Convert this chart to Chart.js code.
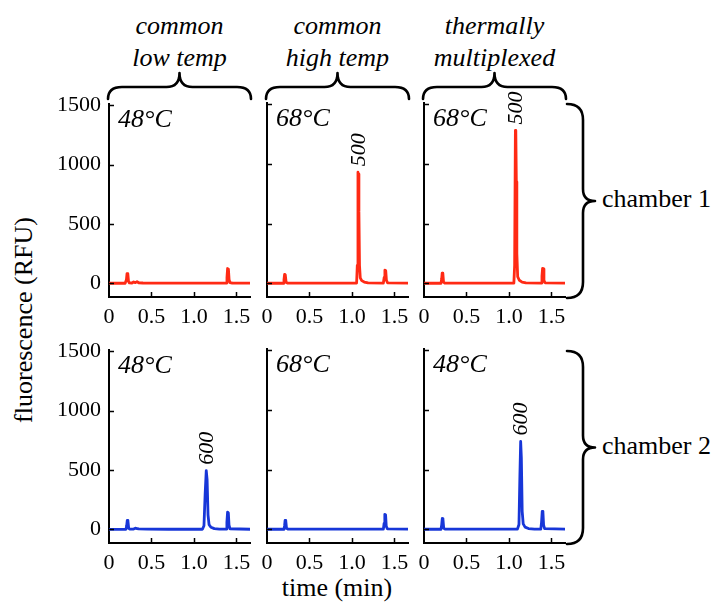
<!DOCTYPE html>
<html><head><meta charset="utf-8">
<script src="https://cdn.jsdelivr.net/npm/chart.js@4.4.0/dist/chart.umd.min.js"></script>
<style>
html,body{margin:0;padding:0;background:#fff;}
#wrap{position:relative;width:715px;height:603px;overflow:hidden;font-family:'Liberation Serif','Times New Roman',serif;color:#000;background:#fff;}
canvas{position:absolute;}
.t{position:absolute;font-size:26px;line-height:32px;white-space:nowrap;}
.it{font-style:italic;text-align:center;width:200px;}
svg{position:absolute;left:0;top:0;}
</style></head><body><div id="wrap">
<svg width="715" height="603" viewBox="0 0 715 603" id="braces"></svg>
</div>
<script>
// ---- data (time in min, fluorescence in RFU) ----
const xTicks = [0, 0.5, 1.0, 1.5];
const xTickLabels = ['0', '0.5', '1.0', '1.5'];
const yTicks = [0, 500, 1000, 1500];
const yTickLabels = ['0', '500', '1000', '1500'];
const columnTitles = [['common', 'low temp'], ['common', 'high temp'], ['thermally', 'multiplexed']];
const rowTitles = ['chamber 1', 'chamber 2'];
const tempLabels = ['48°C', '68°C', '68°C', '48°C', '68°C', '48°C'];
const peakLabels = ['', '500', '500', '600', '', '600'];

const chamber1Low = [[0,1],[0.19,1],[0.205,30],[0.212,82],[0.222,78],[0.23,15],[0.24,4],[0.27,3],[0.29,12],[0.31,6],[0.33,14],[0.35,5],[0.4,3],[0.6,2],[0.9,2],[1.2,2],[1.38,2],[1.389,50],[1.396,125],[1.406,120],[1.414,30],[1.425,6],[1.45,3],[1.66,2]];
const chamber1High = [[0,0],[0.19,0],[0.2,30],[0.207,75],[0.215,72],[0.225,8],[0.24,2],[0.5,1],[1.0,1],[1.055,2],[1.063,150],[1.071,930],[1.076,915],[1.082,600],[1.089,150],[1.098,45],[1.115,22],[1.145,10],[1.19,3],[1.37,2],[1.38,50],[1.388,110],[1.398,105],[1.406,25],[1.42,4],[1.66,1]];
const chamber1Multi = [[0,0],[0.2,0],[0.208,35],[0.214,84],[0.222,80],[0.23,10],[0.245,2],[0.5,1],[1.058,1],[1.067,150],[1.076,1280],[1.081,1265],[1.087,850],[1.093,250],[1.103,55],[1.122,25],[1.155,10],[1.2,3],[1.38,2],[1.389,60],[1.396,125],[1.404,120],[1.412,25],[1.425,4],[1.66,1]];
const chamber2Low = [[0,0],[0.2,0],[0.208,30],[0.215,75],[0.223,70],[0.232,8],[0.245,2],[0.29,3],[0.31,10],[0.33,7],[0.35,4],[0.45,2],[0.7,1],[1.1,1],[1.118,30],[1.132,300],[1.145,495],[1.155,420],[1.166,120],[1.178,40],[1.2,18],[1.24,6],[1.3,2],[1.38,2],[1.388,60],[1.396,145],[1.405,140],[1.413,35],[1.425,5],[1.66,1]];
const chamber2High = [[0,0],[0.2,0],[0.207,30],[0.213,75],[0.221,70],[0.23,8],[0.245,2],[0.6,1],[1.0,1],[1.37,1],[1.379,50],[1.387,125],[1.396,120],[1.404,25],[1.418,4],[1.66,1]];
const chamber2Multi = [[0,0],[0.2,0],[0.208,35],[0.215,90],[0.223,85],[0.232,10],[0.245,2],[0.6,1],[1.1,1],[1.118,40],[1.129,450],[1.138,735],[1.146,600],[1.156,150],[1.168,45],[1.19,18],[1.23,6],[1.3,2],[1.375,2],[1.384,60],[1.392,150],[1.4,145],[1.408,35],[1.42,5],[1.66,1]];

const traces = [chamber1Low, chamber1High, chamber1Multi, chamber2Low, chamber2High, chamber2Multi];

// ---- style / layout ----
const FONT = "'Liberation Serif','Times New Roman',serif";
const RED = '#ff2a14';
const BLUE = '#1736d8';
const X_MAX = 1.66, Y_MIN = -115, Y_MAX = 1510;
const colLeft = [109, 267, 424];
const rowTop = [103, 349];
const PLOT_W = 141, PLOT_H = 194;
const YW = 60, XH = 45, PT = 20, PR = 10;

const wrap = document.getElementById('wrap');

function addText(txt, left, top, cls, extraStyle) {
  const d = document.createElement('div');
  d.className = 't ' + (cls || '');
  d.innerHTML = txt;
  d.style.left = left + 'px';
  d.style.top = top + 'px';
  if (extraStyle) Object.assign(d.style, extraStyle);
  wrap.appendChild(d);
  return d;
}

// column titles
columnTitles.forEach((lines, c) => {
  const mid = colLeft[c] + PLOT_W / 2;
  addText(lines.join('<br>'), mid - 100, 10, 'it');
});
// row titles
addText(rowTitles[0], 602, 183, '');
addText(rowTitles[1], 602, 430, '');
// axis titles
addText('time (min)', 237, 572, '', {width: '200px', textAlign: 'center'});
addText('fluorescence (RFU)', -106, 304, '', {width: '260px', textAlign: 'center', transform: 'rotate(-90deg)', transformOrigin: '50% 50%'});

// braces
const svg = document.getElementById('braces');
function hBrace(x0, x1, yEnd, yLine, yTip) {
  const m = (x0 + x1) / 2;
  return `M${x0},${yEnd} Q${x0},${yLine} ${x0+14},${yLine} L${m-13},${yLine} Q${m},${yLine} ${m},${yTip} Q${m},${yLine} ${m+13},${yLine} L${x1-14},${yLine} Q${x1},${yLine} ${x1},${yEnd}`;
}
function vBrace(y0, y1, xEnd, xLine, xTip) {
  const m = (y0 + y1) / 2;
  return `M${xEnd},${y0} Q${xLine},${y0} ${xLine},${y0+16} L${xLine},${m-12} Q${xLine},${m} ${xTip},${m} Q${xLine},${m} ${xLine},${m+12} L${xLine},${y1-16} Q${xLine},${y1} ${xEnd},${y1}`;
}
let paths = '';
colLeft.forEach(l => { paths += `<path d="${hBrace(l - 1, l + PLOT_W + 1, 99, 87, 73)}"/>`; });
paths += `<path d="${vBrace(104, 298, 567, 583, 595)}"/>`;
paths += `<path d="${vBrace(351, 544, 567, 583, 595)}"/>`;
svg.innerHTML = `<g fill="none" stroke="#000" stroke-width="2.6" stroke-linecap="round" stroke-linejoin="round">${paths}</g>`;

// plugin: inward ticks, temperature label, peak label
const decor = {
  id: 'decor',
  afterDatasetsDraw(chart, args, opts) {
    const {ctx, chartArea: a, scales: {x, y}} = chart;
    ctx.save();
    ctx.strokeStyle = '#000';
    ctx.lineWidth = 1.5;
    ctx.beginPath();
    yTicks.forEach(v => { const py = Math.round(y.getPixelForValue(v)) + 0.5; ctx.moveTo(a.left, py); ctx.lineTo(a.left + 5, py); });
    xTicks.forEach(v => { if (v === 0) return; const px = Math.round(x.getPixelForValue(v)) + 0.5; ctx.moveTo(px, a.bottom); ctx.lineTo(px, a.bottom - 5); });
    ctx.stroke();
    ctx.fillStyle = '#000';
    ctx.font = 'italic 26px ' + FONT;
    ctx.textAlign = 'left';
    ctx.textBaseline = 'alphabetic';
    ctx.fillText(opts.temp, a.left + 9, a.top + 23);
    if (opts.peak) {
      const data = chart.data.datasets[0].data;
      let best = data[0];
      data.forEach(p => { if (p.y > best.y) best = p; });
      const px = x.getPixelForValue(best.x) + 1, py = y.getPixelForValue(best.y);
      ctx.translate(px, py - 6);
      ctx.rotate(-Math.PI / 2);
      ctx.font = 'italic 22px ' + FONT;
      ctx.textAlign = 'left';
      ctx.textBaseline = 'middle';
      ctx.fillText(opts.peak, 0, 0);
    }
    ctx.restore();
  }
};

traces.forEach((pts, i) => {
  const row = Math.floor(i / 3), col = i % 3;
  const cv = document.createElement('canvas');
  const W = YW + PLOT_W + PR, H = PT + PLOT_H + XH;
  cv.width = W; cv.height = H;
  cv.style.width = W + 'px'; cv.style.height = H + 'px';
  cv.style.left = (colLeft[col] - YW) + 'px';
  cv.style.top = (rowTop[row] - PT) + 'px';
  wrap.appendChild(cv);
  new Chart(cv, {
    type: 'line',
    data: {datasets: [{
      data: pts.map(p => ({x: p[0], y: p[1]})),
      borderColor: row === 0 ? RED : BLUE,
      borderWidth: 2.8,
      pointRadius: 0,
      tension: 0,
      fill: false,
      borderJoinStyle: 'round',
      borderCapStyle: 'round'
    }]},
    options: {
      responsive: false,
      animation: false,
      events: [],
      layout: {padding: {top: PT, right: PR, left: 0, bottom: 0}},
      plugins: {legend: {display: false}, tooltip: {enabled: false}, decor: {temp: tempLabels[i], peak: peakLabels[i]}},
      scales: {
        x: {
          type: 'linear', min: 0, max: X_MAX,
          afterBuildTicks: s => { s.ticks = xTicks.map(v => ({value: v})); },
          afterFit: s => { s.height = XH; },
          grid: {display: true, drawOnChartArea: false, drawTicks: false, color: 'rgba(0,0,0,0)'},
          border: {display: true, color: '#000', width: 2},
          ticks: {padding: 7, color: '#000', font: {family: FONT, size: 22}, maxRotation: 0, autoSkip: false,
                  callback: (v, k) => xTickLabels[k]}
        },
        y: {
          type: 'linear', min: Y_MIN, max: Y_MAX,
          afterBuildTicks: s => { s.ticks = yTicks.map(v => ({value: v})); },
          afterFit: s => { s.width = YW; },
          grid: {display: true, drawOnChartArea: false, drawTicks: false, color: 'rgba(0,0,0,0)'},
          border: {display: true, color: '#000', width: 2},
          ticks: {display: col === 0, padding: 8, color: '#000', font: {family: FONT, size: 22}, autoSkip: false,
                  callback: (v, k) => yTickLabels[k]}
        }
      }
    },
    plugins: [decor]
  });
});
</script>
</body></html>
